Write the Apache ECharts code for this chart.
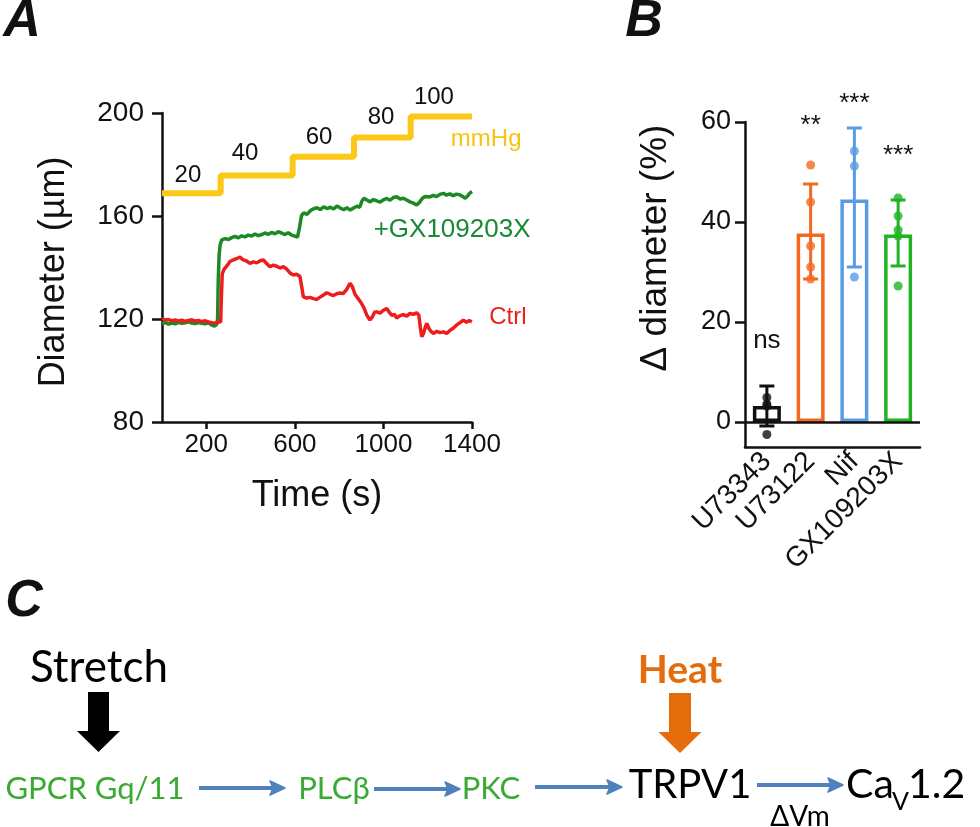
<!DOCTYPE html>
<html><head><meta charset="utf-8">
<script src="https://cdn.jsdelivr.net/npm/echarts@6/dist/echarts.min.js"></script>
<style>html,body{margin:0;padding:0;background:#fff}#c{width:980px;height:827px}</style>
</head><body><div id="c"></div>
<script>
// ---------- Panel A data ----------
const ctrlTrace = [[0,120.2],[15,119.6],[30,119.8],[45,119.3],[60,119.6],[75,119.2],[90,119.5],[105,119.1],[120,119.4],[135,119.7],[150,119.2],[165,119.4],[180,119.0],[195,119.3],[210,118.9],[225,118.6],[240,118.4],[255,118.8],[265,118.9],[268,128],[272,137.5],[280,139.3],[292,140.5],[307,142.3],[320,142.9],[335,143.4],[352,144],[365,143.1],[380,142.6],[397,141.6],[412,142.2],[428,141.8],[443,142.6],[458,142.9],[473,141.5],[488,140.3],[503,140.9],[518,140.5],[533,139.8],[548,140.3],[563,139.4],[578,137.9],[593,137.1],[608,137.4],[623,136.5],[630,133],[638,128.7],[653,128.1],[668,128.4],[684,127.9],[699,127.6],[714,128.5],[729,129.3],[744,130.2],[759,129.6],[774,129.1],[789,129.8],[804,130.1],[819,129.9],[834,131.5],[849,133.9],[860,132.5],[872,129.5],[887,127.8],[900,126.2],[912,124.3],[925,121.5],[939,119.6],[950,120.8],[960,122.6],[970,122.8],[985,122.3],[1000,123.4],[1015,124.1],[1025,122.8],[1038,121.4],[1050,121.8],[1060,120.3],[1075,121.3],[1090,121.7],[1105,121.1],[1120,122.2],[1135,121.8],[1150,122.4],[1160,121.5],[1167,116.5],[1173,113.1],[1182,114.6],[1189,116.8],[1196,118.3],[1206,116.2],[1216,115.1],[1226,114.4],[1241,115.2],[1256,114.7],[1271,115.0],[1286,114.4],[1301,115.6],[1316,116.5],[1331,117.7],[1346,118.6],[1361,119.6],[1375,118.7],[1387,119.4],[1399,118.9]];
const gxTrace = [[0,118.2],[15,118.6],[30,118.0],[45,118.4],[60,118.1],[75,118.7],[90,118.3],[105,118.5],[120,118.9],[135,118.4],[150,118.2],[165,118.6],[180,118.3],[195,118.1],[210,118.5],[225,117.6],[237,117.2],[247,117.9],[251,120],[254,135],[258,145],[263,149],[270,150.7],[285,151.2],[300,150.9],[315,151.6],[330,152.1],[345,151.5],[360,152.3],[375,151.9],[390,152.6],[405,152.2],[420,153],[435,152.4],[450,152.8],[465,153.4],[480,152.9],[495,153.6],[510,153.1],[525,153.9],[540,153.4],[555,152.8],[570,153.5],[585,152.6],[600,152.2],[612,151.8],[622,156],[630,160.2],[640,161.2],[655,160.6],[670,162.1],[685,162.8],[700,163.2],[715,162.5],[730,163.6],[745,162.9],[760,163.4],[775,162.7],[790,163.9],[805,163.1],[820,162.4],[835,163.2],[850,162.3],[865,163.1],[880,163.8],[893,163.4],[903,165.8],[912,166.9],[925,166.2],[940,165.5],[955,166.4],[970,165.9],[985,165.4],[1000,166.3],[1015,166.8],[1030,166.1],[1045,167.2],[1060,167.5],[1075,166.6],[1090,166.9],[1105,166.2],[1120,165.5],[1135,165.0],[1150,164.3],[1162,165.2],[1175,166.8],[1188,167.6],[1196,168.2],[1210,167.4],[1225,168.0],[1240,167.5],[1255,168.4],[1271,168.8],[1285,168.1],[1300,168.6],[1315,167.9],[1330,168.5],[1345,168.2],[1358,167.6],[1369,166.9],[1380,167.8],[1390,168.9],[1400,169.5]];
const pressureStepTimes = [0, 265, 590, 867, 1123, 1400];
const pressureLevels = [168.8, 175.7, 183.0, 190.5, 198.6];   // plotted on diameter scale
const pressureLabels = ['20','40','60','80','100'];
const pressureLabelAnchors = [[117,175.9],[375,184.5],[709,190.7],[989,198.4],[1228,206.2]];
const xTicksA = [200, 600, 1000, 1400];

// ---------- Panel B data ----------
const groups = ['U73343','U73122','Nif','GX109203X'];
const meanDiam = [3.2, 37.7, 44.5, 37.5];
const errLow = [-0.8, 28.6, 31.0, 31.2];
const errHigh = [7.2, 47.6, 58.8, 44.4];
const dotsU73343 = [4.9, 3.6, 3.2, -2.5];
const dotsU73122 = [51.4, 44.0, 35.2, 31.0, 28.6];
const dotsNif = [54.2, 51.2, 29.0];
const dotsGX = [44.8, 41.2, 38.4, 37.2, 27.2];
const sigLabels = ['ns','**','***','***'];
const sigAnchors = [16.2, 59.2, 63.6, 53.3];
const yTicksB = [0, 20, 40, 60];

// ---------- styles ----------
const groupColors = ['#111111','#f26a21','#5a9be6','#22b324'];
const F = 'Liberation Sans, Arial, sans-serif';
const FC = 'Lato, "Open Sans", sans-serif';

const pressureLine = [];
for (let i = 0; i < pressureLevels.length; i++) {
  pressureLine.push([pressureStepTimes[i], pressureLevels[i]]);
  pressureLine.push([pressureStepTimes[i+1], pressureLevels[i]]);
}
const dotSets = [dotsU73343, dotsU73122, dotsNif, dotsGX];

const chart = echarts.init(document.getElementById('c'), null, {renderer:'canvas'});

function blueArrow(x1, x2, y) {
  return [
    {type:'line', shape:{x1:x1, y1:y, x2:x2-12, y2:y}, style:{stroke:'#4f81bd', lineWidth:4}},
    {type:'polygon', shape:{points:[[x2,y],[x2-15,y-7],[x2-12,y],[x2-15,y+7]]}, style:{fill:'#4f81bd', stroke:'#4f81bd', lineWidth:1.5, lineJoin:'round'}}
  ];
}
function blockArrow(cx, top, shaftHalf, headHalf, shaftBottom, tip, color) {
  return {type:'polygon', shape:{points:[[cx-shaftHalf,top],[cx+shaftHalf,top],[cx+shaftHalf,shaftBottom],[cx+headHalf,shaftBottom],[cx,tip],[cx-headHalf,shaftBottom],[cx-shaftHalf,shaftBottom]]}, style:{fill:color}};
}
function txt(text, x, y, font, color, align) {
  return {type:'text', x:x, y:y, style:{text:text, font:font, fill:color, textAlign:align||'center', textVerticalAlign:'middle'}};
}

const graphics = [
  txt('A', 22, 22, 'italic bold 52px ' + F, '#111'),
  txt('B', 644, 22, 'italic bold 52px ' + F, '#111'),
  txt('C', 24, 602, 'italic bold 52px ' + F, '#111'),
  {type:'text', x:54, y:272, rotation:Math.PI/2, style:{text:'Diameter (µm)', font:'36px ' + F, fill:'#111', textAlign:'center', textVerticalAlign:'middle'}},
  txt('Time (s)', 317, 496, '36px ' + F, '#111'),
  {type:'text', x:656, y:248, rotation:Math.PI/2, style:{text:'Δ diameter (%)', font:'37px ' + F, fill:'#111', textAlign:'center', textVerticalAlign:'middle'}},
  // Panel C
  txt('Stretch', 99, 668, '44px ' + FC, '#000'),
  blockArrow(98.5, 692, 10.5, 21.5, 731, 752, '#000'),
  txt('Heat', 680, 670, 'bold 39px ' + FC, '#e46c0a'),
  blockArrow(680, 693, 11, 21.5, 732, 753, '#e46c0a'),
  txt('GPCR Gq/11', 95, 789, '31px ' + FC, '#3aaa35'),
  txt('PLCβ', 334, 789, '31px ' + FC, '#3aaa35'),
  txt('PKC', 491, 789, '31px ' + FC, '#3aaa35'),
  txt('TRPV1', 690, 785, '40px ' + FC, '#000'),
  txt('Ca', 846, 785, '41px ' + FC, '#000', 'left'),
  txt('V', 892, 802, '25px ' + FC, '#000', 'left'),
  txt('1.2', 908, 785, '41px ' + FC, '#000', 'left'),
  txt('ΔVm', 800, 817, '28px ' + FC, '#000'),
].concat(blueArrow(199, 285, 788), blueArrow(374, 460, 789), blueArrow(535, 622, 787), blueArrow(757, 843, 785));

const annotLabel = (size, color) => ({show:true, position:'inside', formatter:p=>p.name, fontSize:size, fontFamily:F, color:color, textBorderWidth:0, opacity:1});

const option = {
  animation: false,
  backgroundColor: '#fff',
  grid: [
    {left:162, top:113, width:310, height:309},
    {left:745, top:122, width:175, height:325}
  ],
  xAxis: [
    {gridIndex:0, type:'value', min:0, max:1400,
      axisLine:{onZero:false, lineStyle:{color:'#111', width:2.5}},
      axisTick:{customValues:xTicksA, length:7, lineStyle:{color:'#111', width:2.5}},
      axisLabel:{customValues:xTicksA, formatter:v=>String(v), fontSize:26, fontFamily:F, color:'#111', margin:10},
      splitLine:{show:false}},
    {gridIndex:1, type:'category', data:groups,
      axisLine:{onZero:false, lineStyle:{color:'#111', width:2.5}},
      axisTick:{show:false},
      axisLabel:{rotate:45, fontSize:28, fontFamily:F, color:'#111', margin:10, interval:0}}
  ],
  yAxis: [
    {gridIndex:0, type:'value', min:80, max:200, interval:40,
      axisLine:{show:true, onZero:false, lineStyle:{color:'#111', width:2.5}},
      axisTick:{show:true, length:10, lineStyle:{color:'#111', width:2.5}},
      axisLabel:{fontSize:28, fontFamily:F, color:'#111', margin:18, formatter:v=>String(v)},
      splitLine:{show:false}},
    {gridIndex:1, type:'value', min:-5, max:60,
      axisLine:{show:true, onZero:false, lineStyle:{color:'#111', width:2.5}},
      axisTick:{show:true, customValues:yTicksB, length:10, lineStyle:{color:'#111', width:2.5}},
      axisLabel:{customValues:yTicksB, fontSize:27, fontFamily:F, color:'#111', margin:14},
      splitLine:{show:false}}
  ],
  series: [
    {type:'line', xAxisIndex:0, yAxisIndex:0, data:pressureLine, showSymbol:false, lineStyle:{color:'#fbc817', width:6}, z:3},
    {type:'line', xAxisIndex:0, yAxisIndex:0, data:gxTrace, showSymbol:false, lineStyle:{color:'#1c8a22', width:3.5}, z:4},
    {type:'line', xAxisIndex:0, yAxisIndex:0, data:ctrlTrace, showSymbol:false, lineStyle:{color:'#ee1d1d', width:3.5}, z:5},
    {type:'scatter', xAxisIndex:0, yAxisIndex:0, clip:false, symbolSize:1, itemStyle:{color:'rgba(0,0,0,0)'},
      data: pressureLabelAnchors.map((p,i)=>({value:p, name:pressureLabels[i]})),
      label:annotLabel(24, '#111'), z:6},
    {type:'scatter', xAxisIndex:0, yAxisIndex:0, clip:false, symbolSize:1, itemStyle:{color:'rgba(0,0,0,0)'},
      data:[{value:[1464,189.8], name:'mmHg'}],
      label:annotLabel(24, '#f6c30f'), z:6},
    {type:'scatter', xAxisIndex:0, yAxisIndex:0, clip:false, symbolSize:1, itemStyle:{color:'rgba(0,0,0,0)'},
      data:[{value:[1310,154.5], name:'+GX109203X'}],
      label:annotLabel(26, '#168a34'), z:6},
    {type:'scatter', xAxisIndex:0, yAxisIndex:0, clip:false, symbolSize:1, itemStyle:{color:'rgba(0,0,0,0)'},
      data:[{value:[1562,120.5], name:'Ctrl'}],
      label:annotLabel(24, '#e8211d'), z:6},
    // Panel B
    {type:'bar', xAxisIndex:1, yAxisIndex:1, barWidth:28,
      data: meanDiam.map((v,i)=>({value:v, itemStyle:{borderColor:groupColors[i]}})),
      itemStyle:{color:'rgba(0,0,0,0)', borderWidth:3.5},
      markLine:{silent:true, symbol:'none', label:{show:false}, lineStyle:{color:'#111', width:2.5, type:'solid'}, data:[{yAxis:0}]},
      z:3},
    {type:'custom', xAxisIndex:1, yAxisIndex:1,
      data: groups.map((g,i)=>[i, errLow[i], errHigh[i]]),
      encode:{x:0, y:[1,2]},
      renderItem:function(params, api){
        const i = api.value(0);
        const lo = api.coord([i, api.value(1)]);
        const hi = api.coord([i, api.value(2)]);
        const c = groupColors[i];
        const w = 7.5;
        const st = {stroke:c, lineWidth:3};
        return {type:'group', children:[
          {type:'line', shape:{x1:lo[0], y1:lo[1], x2:hi[0], y2:hi[1]}, style:st},
          {type:'line', shape:{x1:hi[0]-w, y1:hi[1], x2:hi[0]+w, y2:hi[1]}, style:st},
          {type:'line', shape:{x1:lo[0]-w, y1:lo[1], x2:lo[0]+w, y2:lo[1]}, style:st}
        ]};
      }, z:4}
  ].concat(dotSets.map((set,i)=>({
      type:'scatter', xAxisIndex:1, yAxisIndex:1, symbolSize:9, clip:false,
      itemStyle:{color:groupColors[i]}, data:set.map(v=>[i, v]), z:5
    }))).concat([
    {type:'scatter', xAxisIndex:1, yAxisIndex:1, clip:false, symbolSize:1, itemStyle:{color:'rgba(0,0,0,0)'},
      data: sigLabels.map((s,i)=>({value:[i, sigAnchors[i]], name:s})),
      label:annotLabel(26, '#111'), z:6}
  ]),
  graphic: graphics
};
chart.setOption(option);
</script>
</body></html>
